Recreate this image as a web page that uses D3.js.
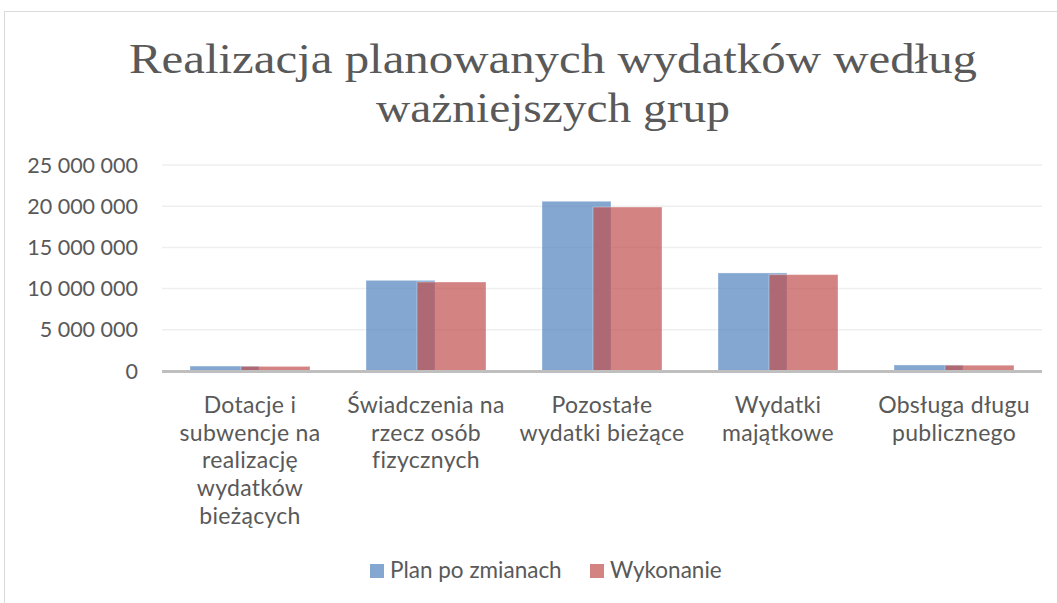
<!DOCTYPE html>
<html lang="pl">
<head>
<meta charset="utf-8" />
<title>Realizacja planowanych wydatków</title>
<script src="https://cdn.jsdelivr.net/npm/d3@7"></script>
<style>
  body { margin: 0; background: #fff; }
  svg { display: block; }
  .lbl { font-family: Lato, "Open Sans", sans-serif; fill: #595959; }
  .title { font-family: "Liberation Serif", "DejaVu Serif", serif; fill: #595959; }
</style>
</head>
<body>
<div id="chart"></div>
<script>
// data
var categories = [
  ["Dotacje i", "subwencje na", "realizację", "wydatków", "bieżących"],
  ["Świadczenia na", "rzecz osób", "fizycznych"],
  ["Pozostałe", "wydatki bieżące"],
  ["Wydatki", "majątkowe"],
  ["Obsługa długu", "publicznego"]
];
var series = ["Plan po zmianach", "Wykonanie"];
var plan = [600000, 11000000, 20600000, 11900000, 730000];
var wykonanie = [560000, 10800000, 19900000, 11700000, 700000];
var yTicks = [0, 5000000, 10000000, 15000000, 20000000, 25000000];
var titleLines = ["Realizacja planowanych wydatków według", "ważniejszych grup"];

var colors = ["rgba(79,129,189,0.7)", "rgba(192,80,77,0.7)"];
var width = 1057, height = 603;

var svg = d3.select("#chart").append("svg")
    .attr("width", width)
    .attr("height", height);

// chart border
svg.append("path")
    .attr("d", "M4.5," + height + " V11.5 H" + width)
    .attr("fill", "none")
    .attr("stroke", "#d9d9d9")
    .attr("stroke-width", 1);

// title
var titleW = [848, 354];
titleLines.forEach(function(t, i) {
  svg.append("text")
      .attr("class", "title")
      .attr("x", 553)
      .attr("y", 73 + i * 49)
      .attr("text-anchor", "middle")
      .attr("font-size", 43)
      .attr("textLength", titleW[i])
      .attr("lengthAdjust", "spacingAndGlyphs")
      .text(t);
});

var catIdx = d3.range(categories.length);
var x = d3.scaleBand().domain(catIdx).range([162, 1042]).padding(0);
var y = d3.scaleLinear().domain([0, 25000000]).range([371, 165]);
var off = d3.scalePoint().domain([0, 1]).range([-60, -9]);
var barW = 69;

var fmt = d3.formatLocale({ thousands: " ", grouping: [3], decimal: ",", currency: ["", ""] }).format(",d");

// gridlines
svg.append("g").selectAll("line")
  .data(yTicks.slice(1))
  .join("line")
    .attr("x1", 162).attr("x2", 1042)
    .attr("y1", function(d) { return y(d); })
    .attr("y2", function(d) { return y(d); })
    .attr("stroke", "#efefef")
    .attr("stroke-width", 1.5);

// y labels
svg.append("g").selectAll("text")
  .data(yTicks)
  .join("text")
    .attr("class", "lbl")
    .attr("x", 138)
    .attr("y", function(d) { return y(d) + 7.5; })
    .attr("text-anchor", "end")
    .attr("font-size", 21.5)
    .text(function(d) { return fmt(d); });

// bars
[plan, wykonanie].forEach(function(vals, s) {
  svg.append("g").selectAll("rect")
    .data(vals)
    .join("rect")
      .attr("x", function(d, i) { return x(i) + x.bandwidth() / 2 + off(s); })
      .attr("y", function(d) { return y(d); })
      .attr("width", barW)
      .attr("height", function(d) { return y(0) - y(d); })
      .attr("fill", colors[s])
      .attr("stroke", "rgba(255,255,255,0.35)")
      .attr("stroke-width", 1);
});

// zero axis
svg.append("line")
    .attr("x1", 162).attr("x2", 1042)
    .attr("y1", y(0) + 0.5).attr("y2", y(0) + 0.5)
    .attr("stroke", "#bfbfbf")
    .attr("stroke-width", 3);

// category labels
var cat = svg.append("g").selectAll("text")
  .data(categories)
  .join("text")
    .attr("class", "lbl")
    .attr("font-size", 23)
    .attr("letter-spacing", 0.3)
    .attr("text-anchor", "middle");
cat.each(function(lines, i) {
  d3.select(this).selectAll("tspan")
    .data(lines)
    .join("tspan")
      .attr("x", x(i) + x.bandwidth() / 2)
      .attr("y", function(d, j) { return 413 + j * 27.7; })
      .text(function(d) { return d; });
});

// legend
var legX = [370, 590];
series.forEach(function(name, s) {
  svg.append("rect")
      .attr("x", legX[s]).attr("y", 564)
      .attr("width", 14).attr("height", 14)
      .attr("fill", colors[s]);
  svg.append("text")
      .attr("class", "lbl")
      .attr("x", legX[s] + 20)
      .attr("y", 578)
      .attr("font-size", 22.5)
      .text(name);
});
</script>
</body>
</html>
